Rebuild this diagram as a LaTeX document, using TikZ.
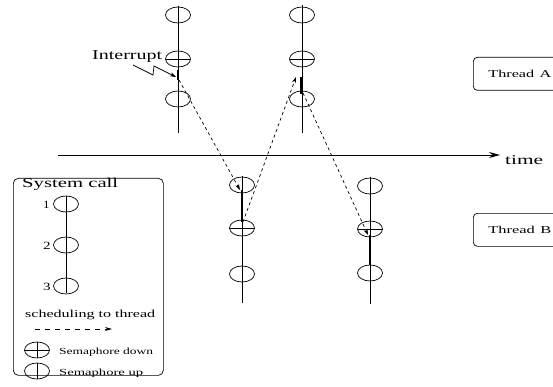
\documentclass[tikz,border=0pt]{standalone}
\usepackage{graphicx}
\usepackage{fontspec}
\setmainfont{Liberation Serif}
\usetikzlibrary{shapes.geometric,arrows.meta}

\newcommand{\fs}[1]{\fontsize{#1}{#1}\selectfont}
% set a label to a given width, keeping its natural height
\newcommand{\wide}[2]{\resizebox{#1}{\height}{#2}}

\tikzset{
  sem/.style={ellipse, draw, minimum width=25pt, minimum height=16pt, inner sep=0pt, line width=0.7pt},
  semdown/.style={sem, path picture={\draw[line width=0.7pt] (path picture bounding box.west) -- (path picture bounding box.east);}},
  semvert/.style={sem, path picture={\draw[line width=0.7pt] (path picture bounding box.north) -- (path picture bounding box.south);}},
  semcross/.style={sem, path picture={
      \draw[line width=0.7pt] (path picture bounding box.west) -- (path picture bounding box.east);
      \draw[line width=0.7pt] (path picture bounding box.north) -- (path picture bounding box.south);}},
  thread/.style={line width=0.8pt},
  running/.style={line width=2.4pt},
  sched/.style={line width=0.7pt, dash pattern=on 3pt off 3pt, -{Stealth[length=6pt,width=4pt]}},
  lbl/.style={inner sep=0pt, anchor=base west},
  threadbox/.style={draw, rounded corners=4pt, line width=0.7pt, minimum height=33pt,
                    text width=80pt, inner xsep=15pt, align=left, anchor=north west, font=\fs{10.5}},
}

\begin{document}
\begin{tikzpicture}[x=1pt, y=-1pt]
\path[use as bounding box, clip] (0,0) rectangle (553,387);

% time axis
\coordinate (t0) at (58,155);
\coordinate (t1) at (500,155);
\draw[line width=0.8pt, -{Stealth[length=11pt,width=6pt]}] (t0) -- (t1);
\node[lbl, font=\fs{13.5}] (time) at (505,165) {\wide{38pt}{time}};

% thread labels
\node[threadbox] (ta) at (473,57) {\wide{63pt}{Thread A}};
\node[threadbox] (tb) at (473,213) {\wide{63pt}{Thread B}};

% thread A, first run
\coordinate (a1top) at (178,6);
\coordinate (a1bot) at (178,133);
\draw[thread] (a1top) -- (a1bot);
\node[sem]     (a11) at (178,15) {};
\node[semdown] (a12) at (178,59) {};
\node[sem]     (a13) at (178,99) {};

% thread A, second run
\coordinate (a2top) at (302,5);
\coordinate (a2bot) at (302,133);
\draw[thread] (a2top) -- (a2bot);
\node[sem]     (a21) at (302,15) {};
\node[semdown] (a22) at (302,59) {};
\node[sem]     (a23) at (302,99) {};

% thread B, first run
\coordinate (b1top) at (242,176);
\coordinate (b1bot) at (242,303);
\draw[thread] (b1top) -- (b1bot);
\node[sem]     (b11) at (242,185) {};
\node[semdown] (b12) at (242,228) {};
\node[sem]     (b13) at (242,274) {};

% thread B, second run
\coordinate (b2top) at (370,177);
\coordinate (b2bot) at (370,304);
\draw[thread] (b2top) -- (b2bot);
\node[sem]     (b21) at (370,186) {};
\node[semdown] (b22) at (370,229) {};
\node[sem]     (b23) at (370,273) {};

% execution segments and scheduling
\coordinate (ra1s) at (178,70);
\coordinate (ra1e) at (178,80);
\coordinate (rb1s) at (242,190);
\coordinate (rb1e) at (242,222);
\coordinate (ra2s) at (301,77);
\coordinate (ra2e) at (301,94);
\coordinate (rb2s) at (370,235);
\coordinate (rb2e) at (370,265);
\draw[running] (ra1s) -- (ra1e);
\draw[running] (rb1s) -- (rb1e);
\draw[running] (ra2s) -- (ra2e);
\draw[running] (rb2s) -- (rb2e);

\coordinate (d1s) at (179,80);
\coordinate (d1e) at (240,190);
\coordinate (d2s) at (243,222);
\coordinate (d2e) at (296,77);
\coordinate (d3s) at (303,93);
\coordinate (d3e) at (368,235);
\draw[sched] (d1s) -- (d1e);
\draw[sched] (d2s) -- (d2e);
\draw[sched] (d3s) -- (d3e);

% interrupt
\node[lbl, font=\fs{13.5}] (irq) at (92,60) {\wide{70pt}{Interrupt}};
\coordinate (z0) at (133,65);
\coordinate (z1) at (153,75);
\coordinate (z2) at (154,66);
\coordinate (z3) at (176,77);
\draw[line width=0.7pt, -{Stealth[length=6pt,width=4pt]}] (z0) -- (z1) -- (z2) -- (z3);

% legend
\node[draw, rounded corners=5pt, line width=0.7pt, minimum width=150pt, minimum height=197pt,
      anchor=north west, inner sep=0pt] (legend) at (13,178) {};
\node[lbl, font=\fs{13.5}] (sc) at (22,187) {\wide{96pt}{System call}};
\coordinate (ltop) at (66,196);
\coordinate (lbot) at (66,293);
\draw[thread] (ltop) -- (lbot);
\node[sem] (l1) at (66,204) {};
\node[sem] (l2) at (66,245) {};
\node[sem] (l3) at (66,286) {};
\node[lbl, font=\fs{11}] (n1) at (43,208) {\wide{6.5pt}{1}};
\node[lbl, font=\fs{11}] (n2) at (43,249) {\wide{7.5pt}{2}};
\node[lbl, font=\fs{11}] (n3) at (43,290) {\wide{7.5pt}{3}};

\node[lbl, font=\fs{10.7}] (st) at (25,317) {\wide{130pt}{scheduling to thread}};
\coordinate (ls0) at (35,329);
\coordinate (ls1) at (112,329);
\draw[sched, dash pattern=on 5pt off 5pt, -{Stealth[length=7pt,width=4pt]}] (ls0) -- (ls1);

\node[semcross] (ld) at (37,350) {};
\node[lbl, font=\fs{9.3}] (ldt) at (59,354) {\wide{94pt}{Semaphore down}};
\node[semvert] (lu) at (37,371) {};
\node[lbl, font=\fs{9.3}] (lut) at (59,375) {\wide{84pt}{Semaphore up}};
\end{tikzpicture}
\end{document}
